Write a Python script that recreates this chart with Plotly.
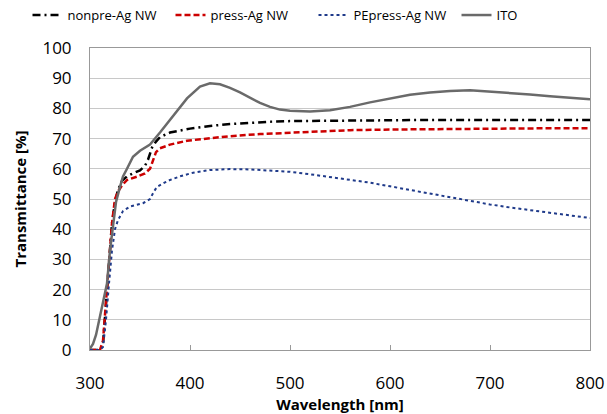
import plotly.graph_objects as go

# nonpre-Ag NW
wl_nonpre = [300, 305, 310, 313, 316, 319, 322, 325, 328, 332, 337, 343, 350, 355, 358, 362, 366, 370, 380, 400, 420, 440, 460, 480, 500, 550, 600, 650, 700, 750, 800]
t_nonpre = [0, 0, 0, 2, 15, 30, 42, 49, 53, 56, 57.5, 58.5, 59.5, 61, 63, 67, 69, 70.5, 72, 73.3, 74.2, 74.8, 75.3, 75.6, 75.8, 76, 76.1, 76.2, 76.2, 76.2, 76.2]

# press-Ag NW
wl_press = [300, 305, 310, 313, 316, 319, 322, 325, 328, 332, 337, 347, 355, 360, 363, 366, 370, 380, 397, 420, 440, 470, 500, 530, 560, 600, 650, 700, 750, 800]
t_press = [0, 0, 0, 3, 16, 30, 42, 50, 52.5, 54.5, 56.3, 57.4, 58.5, 60, 63, 65.5, 66.8, 68, 69.3, 70.1, 70.8, 71.5, 72, 72.4, 72.8, 73, 73.2, 73.4, 73.4, 73.4]

# PEpress-Ag NW
wl_pe = [300, 305, 310, 313, 316, 319, 322, 325, 328, 333, 340, 353, 360, 364, 367, 375, 380, 390, 403, 420, 440, 460, 480, 500, 520, 540, 560, 580, 600, 620, 640, 660, 680, 700, 720, 740, 760, 780, 800]
t_pe = [0, 0, 0, 1, 10, 22, 33, 40, 43, 46, 47.5, 48.6, 50, 52.5, 54, 55.5, 56.3, 57.5, 58.7, 59.6, 59.9, 59.8, 59.5, 59, 58.2, 57.3, 56.5, 55.4, 54.2, 53, 51.8, 50.5, 49.3, 48.2, 47.2, 46.3, 45.3, 44.5, 43.7]

# ITO
wl_ito = [300, 303, 306, 310, 314, 317, 320, 323, 326, 330, 333, 337, 343, 350, 360, 370, 383, 397, 410, 420, 430, 440, 450, 460, 470, 480, 490, 500, 520, 540, 560, 580, 600, 620, 640, 660, 680, 700, 720, 740, 760, 780, 800]
t_ito = [0.5, 2, 5, 11, 17, 22, 33, 42, 49, 54, 57.5, 60, 64, 66, 68, 72, 77.3, 83.3, 87.2, 88.3, 88, 86.8, 85.3, 83.5, 81.8, 80.5, 79.6, 79.2, 79, 79.4, 80.5, 82, 83.3, 84.5, 85.3, 85.8, 86, 85.6, 85.1, 84.6, 84, 83.4, 83]

x_ticks = [300, 400, 500, 600, 700, 800]
y_ticks = list(range(0, 101, 10))

fig = go.Figure()
fig.add_trace(go.Scatter(x=wl_nonpre, y=t_nonpre, mode="lines", name="nonpre-Ag NW",
                         line=dict(color="#000000", width=2.5, dash="8px,4px,2px,4px")))
fig.add_trace(go.Scatter(x=wl_press, y=t_press, mode="lines", name="press-Ag NW",
                         line=dict(color="#cc0000", width=2.5, dash="6px,3px")))
fig.add_trace(go.Scatter(x=wl_pe, y=t_pe, mode="lines", name="PEpress-Ag NW",
                         line=dict(color="#1f3a8a", width=2, dash="dot")))
fig.add_trace(go.Scatter(x=wl_ito, y=t_ito, mode="lines", name="ITO",
                         line=dict(color="#6a6a6a", width=2.5)))

fig.update_layout(
    width=607, height=414,
    margin=dict(l=90, r=17, t=48, b=64, autoexpand=False),
    paper_bgcolor="white", plot_bgcolor="white",
    font=dict(family="Open Sans, Liberation Sans, sans-serif", color="#000000"),
    showlegend=True,
    legend=dict(orientation="h", x=-0.125, y=1.109, xref="paper", yref="paper",
                xanchor="left", yanchor="middle", font=dict(size=13),
                itemwidth=30, entrywidth=98, bgcolor="rgba(0,0,0,0)",
                tracegroupgap=0),
)
fig.update_xaxes(range=[300, 800], tickvals=x_ticks, ticks="inside", ticklen=5, tickcolor="#999999",
                 showgrid=False, showline=True, linecolor="#999999", linewidth=1, mirror=True,
                 tickfont=dict(size=17), ticklabelstandoff=18,
                 title=dict(text="<b>Wavelength [nm]</b>", font=dict(size=15), standoff=2))
fig.update_yaxes(range=[0, 100], tickvals=y_ticks, showgrid=True, gridcolor="#c8c8c8", gridwidth=1,
                 showline=True, linecolor="#999999", linewidth=1, mirror=True, zeroline=False,
                 tickfont=dict(size=17), ticklabelstandoff=14,
                 title=dict(text="<b>Transmittance [%]</b>", font=dict(size=15), standoff=12))

fig.write_html("out.html", config={"displayModeBar": False},
               post_script="document.body.style.margin='0';")
